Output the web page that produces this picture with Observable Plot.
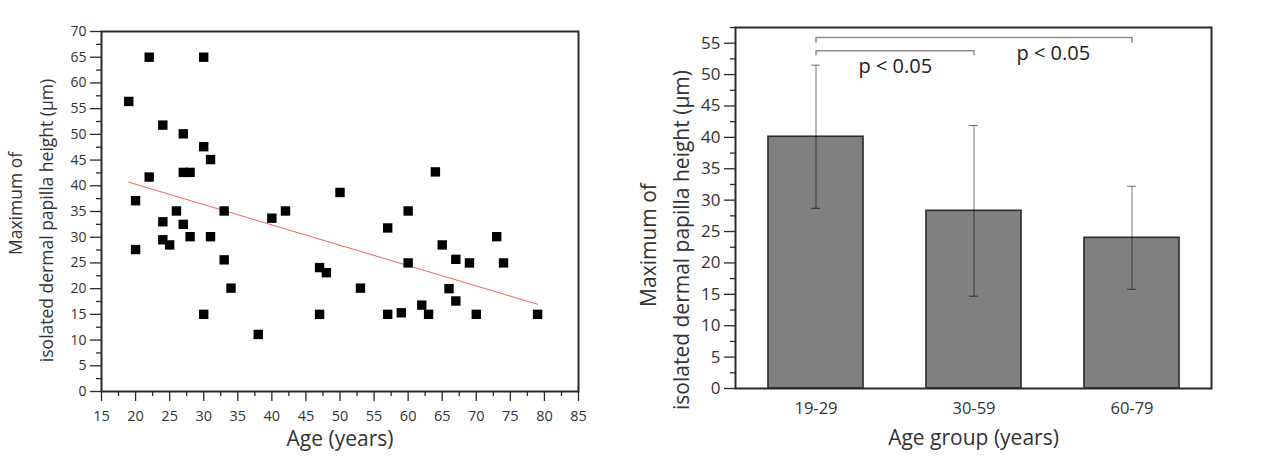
<!DOCTYPE html>
<html>
<head>
<meta charset="utf-8">
<script src="https://cdn.jsdelivr.net/npm/d3@7"></script>
<script src="https://cdn.jsdelivr.net/npm/@observablehq/plot@0.6"></script>
<style>
  html, body { margin: 0; padding: 0; background: #fff; }
  #wrap { position: relative; width: 1263px; height: 462px; overflow: hidden; }
  #left { position: absolute; left: 0; top: 0; }
  #right { position: absolute; left: 620px; top: 0; }
</style>
</head>
<body>
<div id="wrap"><div id="left"></div><div id="right"></div></div>
<script>
// ---------- Left chart: scatter of age vs maximum height ----------
const ages    = [19, 20, 20, 22, 22, 24, 24, 24, 25, 26, 27, 27, 27, 28, 28, 30, 30, 30, 31, 31, 33, 33, 34, 38, 40, 42, 47, 47, 48, 50, 53, 57, 57, 59, 60, 60, 62, 63, 64, 65, 66, 67, 67, 69, 70, 73, 74, 79];
const heights = [56.4, 37.1, 27.6, 65.0, 41.7, 51.8, 33.0, 29.5, 28.5, 35.1, 50.1, 42.6, 32.5, 42.6, 30.1, 65.0, 47.6, 15.0, 45.1, 30.1, 35.1, 25.6, 20.1, 11.1, 33.7, 35.1, 24.1, 15.0, 23.1, 38.7, 20.1, 31.8, 15.0, 15.3, 35.1, 25.0, 16.8, 15.0, 42.7, 28.5, 20.0, 25.7, 17.6, 25.0, 15.0, 30.1, 25.0, 15.0];
const ageTicks = [15, 20, 25, 30, 35, 40, 45, 50, 55, 60, 65, 70, 75, 80, 85];
const heightTicksLeft = [0, 5, 10, 15, 20, 25, 30, 35, 40, 45, 50, 55, 60, 65, 70];
const leftXTitle = "Age (years)";
const yTitleLine1 = "Maximum of";
const yTitleLine2 = "isolated dermal papilla height (μm)";

// ---------- Right chart: group means with SD ----------
const groups = ["19-29", "30-59", "60-79"];
const groupMeans = [40.1, 28.3, 24.0];
const groupSD = [11.4, 13.6, 8.2];
const heightTicksRight = [0, 5, 10, 15, 20, 25, 30, 35, 40, 45, 50, 55];
const rightXTitle = "Age group (years)";
const bracketFrom = ["19-29", "19-29"];
const bracketTo = ["30-59", "60-79"];
const bracketTop = [53.8, 55.9];
const bracketEnd = [53.0, 55.0];
const pLabels = ["p < 0.05", "p < 0.05"];
const pLabelAt = ["19-29", "30-59"];
const pLabelY = [51.2, 53.3];

const FONT = "'Open Sans', 'DejaVu Sans', sans-serif";
const INK = "#2a2a2a";
const TXT = "#333";

const scatter = ages.map((a, i) => ({age: a, h: heights[i]}));
const minorAge = ageTicks.slice(0, -1).map(t => t + 2.5);
const minorLeftY = heightTicksLeft.slice(0, -1).map(t => t + 2.5);

const LW = 620, LH = 462;
const left = Plot.plot({
  width: LW, height: LH,
  marginLeft: 101, marginRight: 42, marginTop: 31, marginBottom: 71,
  style: {fontFamily: FONT, background: "#fff", color: TXT},
  x: {domain: [15, 85]},
  y: {domain: [0, 70]},
  marks: [
    Plot.axisX(minorAge, {tickSize: 5, tickFormat: () => "", label: null, stroke: INK, strokeWidth: 1.3}),
    Plot.axisX(ageTicks, {tickSize: 10, tickPadding: 9, label: null, stroke: INK, strokeWidth: 1.3, fontSize: 14.5, fill: TXT}),
    Plot.axisY(minorLeftY, {tickSize: 5, tickFormat: () => "", label: null, stroke: INK, strokeWidth: 1.3}),
    Plot.axisY(heightTicksLeft, {tickSize: 11, tickPadding: 4, label: null, stroke: INK, strokeWidth: 1.3, fontSize: 14, fill: TXT}),
    Plot.frame({stroke: INK, strokeWidth: 2}),
    Plot.linearRegressionY(scatter, {x: "age", y: "h", stroke: "#ec4a44", strokeWidth: 1, strokeOpacity: 0.85, ci: 0}),
    Plot.dot(scatter, {x: "age", y: "h", symbol: "square", r: 5.3, fill: "#000", stroke: "none"}),
    Plot.text([leftXTitle], {text: d => d, frameAnchor: "bottom", textAnchor: "middle", dy: 54, fontSize: 21, fill: TXT}),
    Plot.text([yTitleLine1], {text: d => d, frameAnchor: "left", textAnchor: "middle", dx: -85, dy: -8, rotate: -90, fontSize: 17.5, fill: TXT}),
    Plot.text([yTitleLine2], {text: d => d, frameAnchor: "left", textAnchor: "middle", dx: -54, dy: 9, rotate: -90, fontSize: 17.5, fill: TXT})
  ]
});
document.getElementById("left").appendChild(left);

// Right chart
const bars = groups.map((g, i) => ({g, m: groupMeans[i], lo: groupMeans[i] - groupSD[i], hi: groupMeans[i] + groupSD[i]}));
const brackets = bracketFrom.map((f, i) => ({from: f, to: bracketTo[i], top: bracketTop[i], end: bracketEnd[i]}));
const bracketEnds = brackets.flatMap(b => [{g: b.from, top: b.top, end: b.end}, {g: b.to, top: b.top, end: b.end}]);
const pData = pLabels.map((t, i) => ({t, g: pLabelAt[i], y: pLabelY[i]}));
const minorRightY = heightTicksRight.map(t => t + 2.5);

const RW = 643, RH = 462;
const rML = 115, rMR = 52;
const step = (RW - rML - rMR) / groups.length;
const right = Plot.plot({
  width: RW, height: RH,
  marginLeft: rML, marginRight: rMR, marginTop: 27, marginBottom: 74,
  style: {fontFamily: FONT, background: "#fff", color: TXT},
  x: {domain: groups, type: "band", paddingInner: 0.4, paddingOuter: 0.2},
  y: {domain: [0, 57.5]},
  marks: [
    Plot.barY(bars, {x: "g", y: "m", fill: "#808080", stroke: INK, strokeWidth: 1.6}),
    Plot.ruleX(bars, {x: "g", y1: "lo", y2: "hi", stroke: "#000", strokeOpacity: 0.5, strokeWidth: 1.1}),
    Plot.tickY(bars, {x: "g", y: "hi", stroke: "#000", strokeOpacity: 0.5, strokeWidth: 1.1, insetLeft: step * 0.3 - 4.5, insetRight: step * 0.3 - 4.5}),
    Plot.tickY(bars, {x: "g", y: "lo", stroke: "#000", strokeOpacity: 0.6, strokeWidth: 1.1, insetLeft: step * 0.3 - 4.5, insetRight: step * 0.3 - 4.5}),
    Plot.axisY(minorRightY, {tickSize: 5, tickFormat: () => "", label: null, stroke: INK, strokeWidth: 1.3}),
    Plot.axisY(heightTicksRight, {tickSize: 11, tickPadding: 4, label: null, stroke: INK, strokeWidth: 1.3, fontSize: 17, fill: TXT}),
    Plot.axisX({tickSize: 0, tickPadding: 14, label: null, fontSize: 16.5, fill: TXT}),
    Plot.frame({stroke: INK, strokeWidth: 2}),
    Plot.link(brackets, {x1: "from", x2: "to", y1: "top", y2: "top", stroke: "#8c8c8c", strokeWidth: 1.5}),
    Plot.ruleX(bracketEnds, {x: "g", y1: "end", y2: "top", stroke: "#8c8c8c", strokeWidth: 1.5}),
    Plot.text(pData, {x: "g", y: "y", text: "t", dx: step / 2, fontSize: 20, fill: "#222"}),
    Plot.text([rightXTitle], {text: d => d, frameAnchor: "bottom", textAnchor: "middle", dy: 56, fontSize: 21, fill: TXT}),
    Plot.text([yTitleLine1], {text: d => d, frameAnchor: "left", textAnchor: "middle", dx: -86, dy: 37, rotate: -90, fontSize: 21, fill: TXT}),
    Plot.text([yTitleLine2], {text: d => d, frameAnchor: "left", textAnchor: "middle", dx: -53, dy: 32, rotate: -90, fontSize: 21, fill: TXT})
  ]
});
document.getElementById("right").appendChild(right);
</script>
</body>
</html>
